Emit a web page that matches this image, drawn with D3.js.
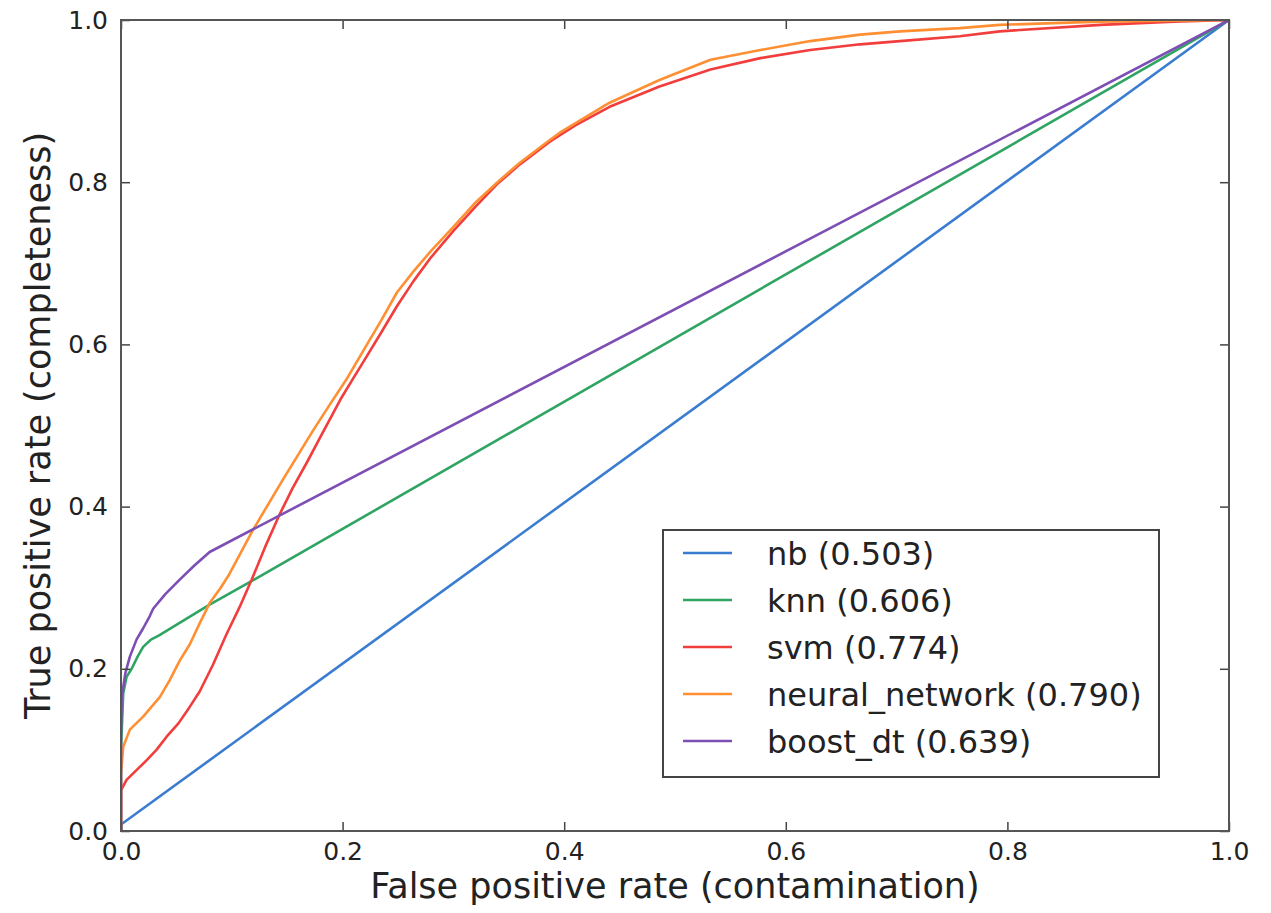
<!DOCTYPE html>
<html>
<head>
<meta charset="utf-8">
<script src="https://cdn.jsdelivr.net/npm/d3@7"></script>
<style>
  html, body { margin: 0; padding: 0; background: #fff; }
  svg { display: block; font-family: "DejaVu Sans", sans-serif; }
</style>
</head>
<body>
<svg id="chart" width="1271" height="913"></svg>
<script>
// ROC curves: [false positive rate, true positive rate]
const nbPoints = [[0, 0], [0, 0.008], [1, 1]];
const knnPoints = [[0, 0], [0, 0.10], [0.002, 0.17], [0.005, 0.19], [0.0096, 0.20], [0.015, 0.215],
  [0.02, 0.227], [0.027, 0.236], [0.034, 0.241], [0.08, 0.279], [0.119, 0.309], [1, 1]];
const svmPoints = [[0, 0], [0, 0.05], [0.005, 0.063], [0.014, 0.075], [0.023, 0.087], [0.032, 0.10],
  [0.041, 0.116], [0.052, 0.133], [0.062, 0.153], [0.071, 0.172], [0.083, 0.205], [0.095, 0.242],
  [0.107, 0.276], [0.118, 0.31], [0.13, 0.35], [0.143, 0.390], [0.155, 0.423], [0.168, 0.455],
  [0.18, 0.486], [0.191, 0.514], [0.198, 0.532], [0.21, 0.559], [0.219, 0.579], [0.235, 0.615],
  [0.249, 0.647], [0.264, 0.678], [0.279, 0.706], [0.30, 0.740], [0.32, 0.770], [0.339, 0.797],
  [0.36, 0.822], [0.387, 0.850], [0.41, 0.870], [0.441, 0.893], [0.486, 0.918], [0.532, 0.939],
  [0.577, 0.953], [0.622, 0.963], [0.667, 0.970], [0.703, 0.974], [0.757, 0.980], [0.793, 0.986],
  [0.884, 0.994], [0.95, 0.998], [1, 1]];
const nnPoints = [[0, 0], [0, 0.07], [0.002, 0.104], [0.008, 0.125], [0.02, 0.141], [0.035, 0.165],
  [0.044, 0.186], [0.053, 0.21], [0.062, 0.230], [0.071, 0.256], [0.080, 0.281], [0.090, 0.300],
  [0.097, 0.315], [0.119, 0.371], [0.146, 0.433], [0.173, 0.493], [0.189, 0.527], [0.204, 0.558],
  [0.219, 0.593], [0.235, 0.630], [0.249, 0.664], [0.264, 0.690], [0.279, 0.714], [0.30, 0.745],
  [0.32, 0.775], [0.339, 0.799], [0.36, 0.824], [0.387, 0.852], [0.396, 0.861], [0.441, 0.898],
  [0.486, 0.926], [0.532, 0.951], [0.577, 0.963], [0.622, 0.974], [0.667, 0.982], [0.703, 0.986],
  [0.757, 0.990], [0.793, 0.994], [0.883, 0.998], [1, 1]];
const boostPoints = [[0, 0], [0, 0.12], [0.0006, 0.165], [0.004, 0.195], [0.008, 0.215], [0.014, 0.236],
  [0.02, 0.25], [0.026, 0.265], [0.029, 0.274], [0.04, 0.292], [0.053, 0.31], [0.066, 0.327],
  [0.08, 0.344], [1, 1]];

const seriesNames = ["nb", "knn", "svm", "neural_network", "boost_dt"];
const seriesAUC = ["0.503", "0.606", "0.774", "0.790", "0.639"];
const seriesColors = ["#3a7dd0", "#2fa463", "#f23d3d", "#ff8f33", "#7d4eb3"];
const seriesPoints = [nbPoints, knnPoints, svmPoints, nnPoints, boostPoints];

const tickValues = [0.0, 0.2, 0.4, 0.6, 0.8, 1.0];
const xTitle = "False positive rate (contamination)";
const yTitle = "True positive rate (completeness)";

const svg = d3.select("#chart");
const plot = { left: 121, top: 20, right: 1229, bottom: 831 };

const x = d3.scaleLinear().domain([0, 1]).range([plot.left, plot.right]);
const y = d3.scaleLinear().domain([0, 1]).range([plot.bottom, plot.top]);

const line = d3.line().x(d => x(d[0])).y(d => y(d[1]));

// curves (clipped to the axes box)
svg.append("clipPath").attr("id", "plot-clip")
  .append("rect")
  .attr("x", plot.left).attr("y", plot.top)
  .attr("width", plot.right - plot.left).attr("height", plot.bottom - plot.top);

const curves = svg.append("g").attr("clip-path", "url(#plot-clip)");
seriesPoints.forEach((pts, i) => {
  curves.append("path")
    .datum(pts)
    .attr("d", line)
    .attr("fill", "none")
    .attr("stroke", seriesColors[i])
    .attr("stroke-width", 2.6)
    .attr("stroke-linejoin", "round");
});

// axes with inward ticks on all four sides
const fmt = d3.format(".1f");
const tickFont = 25;
function styleAxis(g) {
  g.select(".domain").remove();
  g.selectAll(".tick line").attr("stroke", "#444").attr("stroke-width", 1.5);
  g.selectAll(".tick text")
    .attr("fill", "#222")
    .style("font-size", tickFont + "px")
    .style("font-family", "DejaVu Sans, sans-serif");
}

svg.append("g")
  .attr("transform", `translate(0,${plot.bottom})`)
  .call(d3.axisBottom(x).tickValues(tickValues).tickFormat(fmt).tickSize(-9).tickPadding(11))
  .call(styleAxis);

svg.append("g")
  .attr("transform", `translate(${plot.left},0)`)
  .call(d3.axisLeft(y).tickValues(tickValues).tickFormat(fmt).tickSize(-9).tickPadding(13))
  .call(styleAxis);

svg.append("g")
  .attr("transform", `translate(0,${plot.top})`)
  .call(d3.axisTop(x).tickValues(tickValues).tickFormat("").tickSize(-9))
  .call(styleAxis);

svg.append("g")
  .attr("transform", `translate(${plot.right},0)`)
  .call(d3.axisRight(y).tickValues(tickValues).tickFormat("").tickSize(-9))
  .call(styleAxis);

// frame
svg.append("rect")
  .attr("x", plot.left).attr("y", plot.top)
  .attr("width", plot.right - plot.left).attr("height", plot.bottom - plot.top)
  .attr("fill", "none")
  .attr("stroke", "#555")
  .attr("stroke-width", 2);

// axis titles
svg.append("text")
  .attr("x", (plot.left + plot.right) / 2)
  .attr("y", 898)
  .attr("text-anchor", "middle")
  .attr("fill", "#222")
  .style("font-size", "35px")
  .text(xTitle);

svg.append("text")
  .attr("transform", `translate(50,${(plot.top + plot.bottom) / 2}) rotate(-90)`)
  .attr("text-anchor", "middle")
  .attr("fill", "#222")
  .style("font-size", "35px")
  .text(yTitle);

// legend
const legend = svg.append("g");
const legendBox = { x: 663, y: 530, w: 496, h: 247 };
legend.append("rect")
  .attr("x", legendBox.x).attr("y", legendBox.y)
  .attr("width", legendBox.w).attr("height", legendBox.h)
  .attr("fill", "#fff")
  .attr("stroke", "#444")
  .attr("stroke-width", 2);

const rowY = d3.scalePoint().domain(seriesNames).range([553, 741]);
seriesNames.forEach((name, i) => {
  const cy = rowY(name);
  legend.append("line")
    .attr("x1", 683).attr("x2", 732)
    .attr("y1", cy).attr("y2", cy)
    .attr("stroke", seriesColors[i])
    .attr("stroke-width", 2.6);
  legend.append("text")
    .attr("x", 767)
    .attr("y", cy)
    .attr("dy", "0.36em")
    .attr("fill", "#222")
    .style("font-size", "32px")
    .text(`${name} (${seriesAUC[i]})`);
});
</script>
</body>
</html>
